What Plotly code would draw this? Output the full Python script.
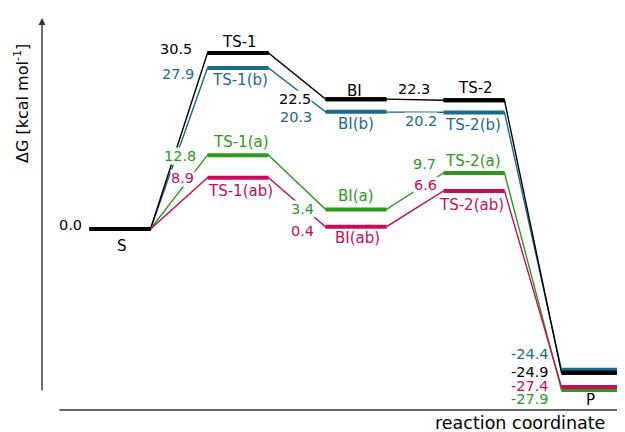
import plotly.graph_objects as go

# ---------------- data ----------------
stages = ["S", "TS-1", "BI", "TS-2", "P"]
energy_ref = [0.0, 30.5, 22.5, 22.3, -24.9]
energy_b = [0.0, 27.9, 20.3, 20.2, -24.4]
energy_a = [0.0, 12.8, 3.4, 9.7, -27.9]
energy_ab = [0.0, 8.9, 0.4, 6.6, -27.4]
suffixes = ["", "(b)", "(a)", "(ab)"]
value_labels_ref = ["0.0", "30.5", "22.5", "22.3", "-24.9"]
value_labels_b = [None, "27.9", "20.3", "20.2", "-24.4"]
value_labels_a = [None, "12.8", "3.4", "9.7", "-27.9"]
value_labels_ab = [None, "8.9", "0.4", "6.6", "-27.4"]

# ---------------- styling ----------------
colors = ["#000000", "#1b6a8c", "#2b9a1c", "#cc0a5a"]
FONT = "DejaVu Sans"
VAL_SIZE = 14.5
NAME_SIZE = 15
HW = 0.2585  # half width of an energy level (stage units)

# the page body has an 8px margin: compensate so the figure fills the window
OFF = 8
W, H = 625 - OFF, 432 - OFF

# value-label offsets (dx px, dy px downwards) relative to level's left end
val_off = [
    [(-6.5, -4), (-14.5, -4), (-13.5, 0), (-12.5, -11), (-11.5, -1)],
    [None, (-12.5, 6), (-12.5, 5), (-5.5, 9), (-11.5, -16)],
    [None, (-10.5, 1), (-10.5, 0), (-6.5, -9), (-11.5, 9)],
    [None, (-12.5, 0), (-10.5, 4), (-5.5, -6), (-11.5, -1)],
]
# name-label offsets (dx px, dy px downwards) relative to level centre
name_off = [
    [(2, 17), (1, -11), (-2, -8), (1, -12), None],
    [None, (1.5, 12), (0, 12), (-1, 13), None],
    [None, (3, -13), (0, -13), (-1, -12), None],
    [None, (2, 13), (1, 11), (-3, 14), None],
]

all_energies = [energy_ref, energy_b, energy_a, energy_ab]
all_vlabels = [value_labels_ref, value_labels_b, value_labels_a, value_labels_ab]

fig = go.Figure()

draw_order = [1, 0, 2, 3]
# thin connectors
for k in draw_order:
    e = all_energies[k]
    xs, ys = [], []
    for i in range(len(stages)):
        xs += [i - HW, i + HW]
        ys += [e[i], e[i]]
    fig.add_trace(go.Scatter(x=xs, y=ys, mode="lines",
                             line=dict(color=colors[k], width=1.4),
                             hoverinfo="skip", showlegend=False))
# thick levels
for k in draw_order + [0]:
    e = all_energies[k]
    xs, ys = [], []
    idx = range(len(stages)) if k == 0 else range(1, len(stages))
    for i in idx:
        xs += [i - HW, i + HW, None]
        ys += [e[i], e[i], None]
    fig.add_trace(go.Scatter(x=xs, y=ys, mode="lines",
                             line=dict(color=colors[k], width=4),
                             hoverinfo="skip", showlegend=False))

annotations = []
last = len(stages) - 1
for k in range(4):
    e = all_energies[k]
    for i in range(len(stages)):
        vl = all_vlabels[k][i]
        if vl is not None:
            dx, dy = val_off[k][i]
            annotations.append(dict(
                x=i - HW, y=e[i], xref="x", yref="y", text=vl,
                xanchor="right", yanchor="middle", xshift=dx, yshift=-dy,
                showarrow=False,
                bgcolor=None if i == last else "white", borderpad=0,
                font=dict(family=FONT, size=VAL_SIZE, color=colors[k])))
        no = name_off[k][i]
        if no is not None:
            dx, dy = no
            name = stages[i] if i == 0 else stages[i] + suffixes[k]
            annotations.append(dict(
                x=i, y=e[i], xref="x", yref="y", text=name,
                xanchor="center", yanchor="middle", xshift=dx, yshift=-dy,
                showarrow=False,
                font=dict(family=FONT, size=NAME_SIZE, color=colors[k])))

# product name label below the lowest product level
p_low = min(e[last] for e in all_energies)
annotations.append(dict(x=last, y=p_low, xref="x", yref="y", text=stages[last],
                        xanchor="center", yanchor="middle", xshift=-2,
                        yshift=-10, showarrow=False,
                        font=dict(family=FONT, size=NAME_SIZE, color="#000000")))


def px(x):
    return (x - OFF) / W


def py(y):
    return 1 - (y - OFF) / H


# axes arrows
annotations.append(dict(x=px(42), y=py(18), xref="paper", yref="paper",
                        ax=0, ay=374, text="", showarrow=True,
                        arrowhead=2, arrowsize=1, arrowwidth=1.4,
                        arrowcolor="#333333", standoff=0))
annotations.append(dict(x=px(624), y=py(410), xref="paper", yref="paper",
                        ax=-566, ay=0, text="", showarrow=True,
                        arrowhead=2, arrowsize=1, arrowwidth=1.4,
                        arrowcolor="#333333", standoff=0))
# axis titles
annotations.append(dict(x=px(22), y=py(104), xref="paper", yref="paper",
                        text="ΔG [kcal mol<sup>-1</sup>]", textangle=-90,
                        showarrow=False, xanchor="center", yanchor="middle",
                        font=dict(family=FONT, size=16, color="#000000")))
annotations.append(dict(x=px(520), y=py(423), xref="paper", yref="paper",
                        text="reaction coordinate", showarrow=False,
                        xanchor="center", yanchor="middle",
                        font=dict(family=FONT, size=17.5, color="#000000")))

px_per_unit = (229 - 53) / 30.5
fig.update_layout(
    width=W, height=H,
    margin=dict(l=0, r=0, t=0, b=0),
    paper_bgcolor="white", plot_bgcolor="white",
    xaxis=dict(range=[(OFF - 120) / 118, 505 / 118], visible=False,
               fixedrange=True),
    yaxis=dict(range=[(229 - 432) / px_per_unit, (229 - OFF) / px_per_unit],
               visible=False, fixedrange=True),
    annotations=annotations,
    showlegend=False,
)

fig.write_html("out.html")
